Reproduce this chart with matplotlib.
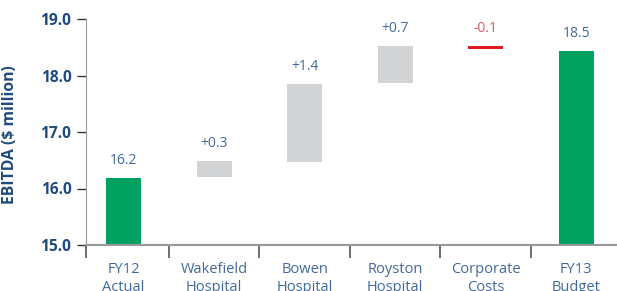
import matplotlib
matplotlib.use("Agg")
import matplotlib.pyplot as plt

# waterfall data, $ million
categories = ["FY12\nActual", "Wakefield\nHospital", "Bowen\nHospital",
              "Royston\nHospital", "Corporate\nCosts", "FY13\nBudget"]
bar_bottom = [15.0, 16.21, 16.47, 17.87, 18.475, 15.0]
bar_top = [16.18, 16.49, 17.855, 18.52, 18.53, 18.43]
value_labels = ["16.2", "+0.3", "+1.4", "+0.7", "-0.1", "18.5"]
kinds = ["total", "up", "up", "up", "down", "total"]
yticks = [15.0, 16.0, 17.0, 18.0, 19.0]

green = "#00a060"
grey = "#d1d3d4"
red = "#e31b23"
navy = "#1f4a7c"
label_blue = "#41699a"
colors = {"total": green, "up": grey, "down": red}
text_colors = {"total": label_blue, "up": label_blue, "down": "#e8525a"}

plt.rcParams["font.family"] = ["Open Sans", "DejaVu Sans"]

fig = plt.figure(figsize=(6.17, 2.91), dpi=100)
ax = fig.add_axes([86 / 617, 46 / 291, 531 / 617, 226 / 291])

x = list(range(len(categories)))
heights = [t - b for t, b in zip(bar_top, bar_bottom)]
ax.bar(x, heights, bottom=bar_bottom, width=0.386,
       color=[colors[k] for k in kinds], zorder=2)

for i in x:
    ax.annotate(value_labels[i], (i, bar_top[i]), xytext=(0, 12.5),
                textcoords="offset points", ha="center", va="center",
                fontsize=10, color=text_colors[kinds[i]])

ax.set_ylim(15, 19)
ax.set_xlim(-0.414, 5.45)
ax.set_yticks(yticks)
ax.set_yticklabels([f"{v:.1f}" for v in yticks], fontsize=11.2,
                   fontweight="bold", color=navy)
ax.tick_params(axis="y", length=6.5, width=1, color="#333333", pad=4)

# boundary ticks below the axis, labels in the middle of each slot
ax.set_xticks([-0.414, 0.5, 1.5, 2.5, 3.5, 4.5])
ax.set_xticklabels([])
ax.tick_params(axis="x", which="major", length=9, width=1.2, color="#555555")
ax.set_xticks(x, minor=True)
ax.set_xticklabels(categories, minor=True, fontsize=10.5, color=label_blue,
                   linespacing=1.25, va="top")
ax.tick_params(axis="x", which="minor", length=0, pad=12.5)

ax.set_ylabel("EBITDA ($ million)", fontsize=11.3, fontweight="bold", color=navy)
ax.yaxis.set_label_coords(-0.128, 0.49)

for s in ["top", "right"]:
    ax.spines[s].set_visible(False)
ax.spines["left"].set_color("#999999")
ax.spines["bottom"].set_color("#999999")
ax.spines["bottom"].set_linewidth(1.5)

fig.savefig("out.png", dpi=100)
